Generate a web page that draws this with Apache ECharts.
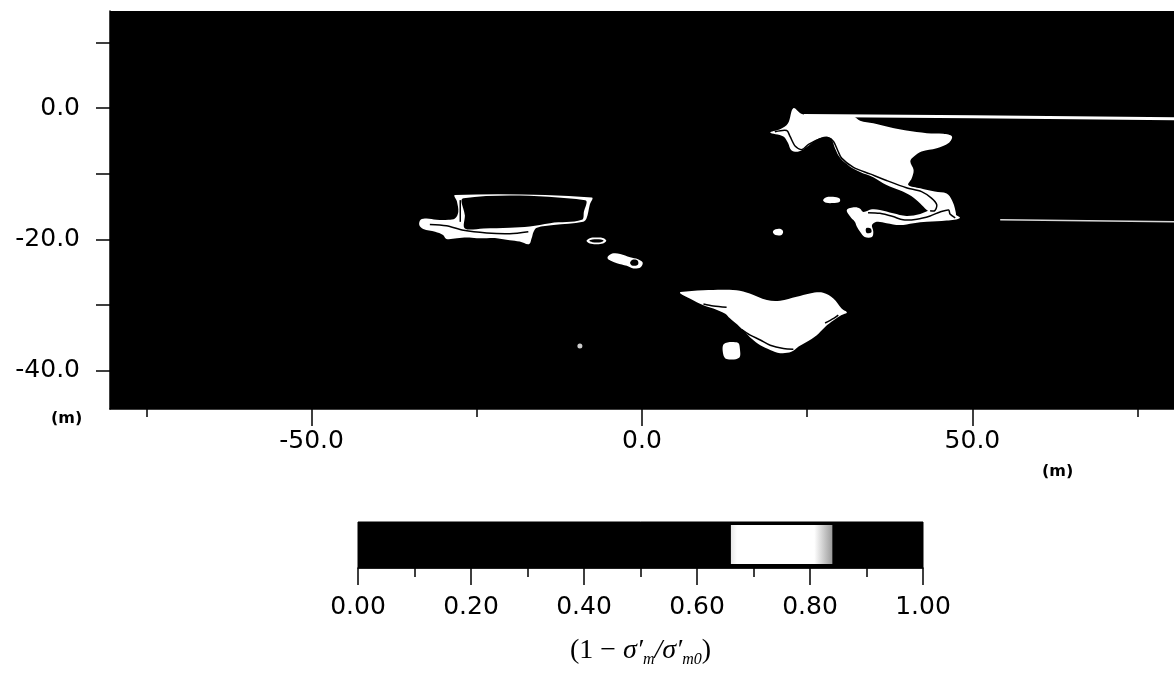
<!DOCTYPE html>
<html>
<head>
<meta charset="utf-8">
<title>1 - sigma'm / sigma'm0</title>
<script src="https://cdn.jsdelivr.net/npm/echarts@6/dist/echarts.min.js"></script>
<style>
html, body { margin: 0; padding: 0; background: #fff; }
#main { width: 1174px; height: 676px; }
</style>
</head>
<body>
<div id="main"></div>
<script>
// axis ticks (m)
var xTicksMajor = [-50, 0, 50];
var xTicksMinor = [-75, -25, 25, 75];
var yTicks = [-40, -30, -20, -10, 0, 10];
var yLabels = [-40, -20, 0];

// colour bar: breaks of (1 - s'm/s'm0) and shade of each band (0 black, 1 white)
var cbBreaks = [0, 0.66, 0.84, 1.0];
var cbShade = [0, 1, 0];

// zones with 0.66 < (1 - s'm/s'm0) < 0.84, outlines, [x, z] in m
var panOuter = [[-28.3,-13.2],[-7.6,-13.6],[-7.9,-14.7],[-8.4,-16.8],[-8.9,-17.3],[-13.4,-17.8],[-15.9,-18.2],[-16.4,-18.8],[-16.7,-19.8],[-17.1,-20.7],[-18.5,-20.3],[-20.0,-20.1],[-22.0,-19.8],[-23.5,-19.8],[-25.0,-19.8],[-26.5,-19.7],[-28.0,-19.8],[-29.6,-19.9],[-30.1,-19.3],[-31.3,-18.8],[-33.1,-18.4],[-33.7,-17.8],[-33.5,-17.0],[-32.6,-16.8],[-31.1,-17.0],[-29.3,-17.0],[-28.3,-16.8],[-27.8,-15.8],[-28.0,-14.2]];
var ring = [[-8.4,-20.2],[-7.9,-19.8],[-6.9,-19.7],[-5.8,-19.8],[-5.4,-20.2],[-5.9,-20.6],[-6.9,-20.7],[-7.9,-20.6]];
var blob3 = [[-5.1,-22.5],[-4.3,-22.1],[-3.3,-22.2],[-1.8,-22.7],[-0.6,-23.0],[0.1,-23.5],[-0.2,-24.2],[-1.3,-24.4],[-2.3,-24.0],[-3.8,-23.6],[-4.8,-23.2],[-5.2,-22.9]];
var lowerBlob = [[5.8,-28.0],[9.3,-27.7],[14.3,-27.7],[16.3,-28.2],[18.9,-29.2],[20.9,-29.3],[23.4,-28.7],[25.4,-28.2],[27.4,-28.1],[29.0,-29.0],[30.2,-30.5],[31.0,-31.1],[30.2,-31.5],[29.0,-32.3],[27.7,-33.3],[26.4,-34.6],[24.9,-35.6],[23.7,-36.3],[22.6,-37.1],[20.9,-37.3],[19.4,-36.8],[17.9,-36.1],[16.6,-35.1],[15.6,-34.1],[14.8,-33.3],[13.3,-32.0],[12.6,-31.3],[10.8,-30.5],[9.3,-30.0],[7.3,-29.0],[5.8,-28.2]];
var squareBlob = [[12.4,-35.9],[14.5,-35.7],[14.8,-36.5],[14.7,-38.0],[12.8,-38.2],[12.3,-37.5]];
var upperA = [[22.9,0.0],[24.2,-0.9],[26.4,-1.2],[32.0,-1.3],[33.0,-1.9],[35.0,-2.3],[37.5,-2.9],[40.0,-3.4],[43.1,-3.8],[45.6,-3.9],[46.9,-4.3],[46.4,-5.3],[44.6,-6.1],[42.3,-6.6],[41.1,-7.4],[40.6,-8.1],[41.1,-9.4],[40.8,-10.7],[40.3,-11.7],[42.1,-12.2],[44.3,-12.7],[46.1,-13.0],[46.9,-14.0],[47.4,-15.5],[47.4,-16.5],[45.6,-16.8],[44.1,-16.1],[43.1,-15.5],[42.1,-14.5],[40.8,-13.4],[39.0,-12.5],[37.0,-11.7],[35.0,-10.5],[33.0,-9.7],[31.5,-8.9],[30.0,-7.6],[29.2,-6.1],[28.7,-4.8],[27.9,-4.3],[26.4,-4.8],[24.9,-5.9],[23.7,-6.6],[22.6,-6.4],[22.1,-5.3],[21.4,-4.3],[19.4,-3.7],[20.9,-3.2],[22.1,-2.3]];
var upperB = [[31.0,-15.5],[32.2,-15.1],[33.0,-15.3],[33.5,-15.8],[34.8,-15.4],[36.0,-15.5],[38.0,-16.0],[40.0,-16.4],[42.1,-16.1],[43.6,-15.5],[45.1,-15.0],[46.1,-14.7],[47.1,-16.0],[48.1,-16.7],[46.1,-17.1],[43.1,-17.3],[41.1,-17.5],[39.0,-17.8],[37.0,-17.5],[35.5,-17.3],[34.8,-17.8],[35.0,-18.8],[34.8,-19.6],[33.7,-19.6],[33.0,-18.8],[32.5,-18.0],[32.2,-17.3],[31.5,-16.5]];
var ellC = [[27.4,-14.0],[27.9,-13.55],[28.9,-13.5],[29.9,-13.75],[29.9,-14.25],[28.9,-14.45],[27.9,-14.4]];
var ellD = [[19.8,-18.85],[20.2,-18.45],[21.0,-18.4],[21.35,-18.8],[21.1,-19.3],[20.2,-19.3]];
var spot = [[-9.4,-36.2]];

// holes inside the white zones (back to black)
var panHole = [[-27.0,-13.7],[-8.6,-14.0],[-8.8,-15.8],[-9.1,-17.0],[-13.9,-17.5],[-17.0,-18.0],[-20.0,-18.2],[-24.0,-18.3],[-26.8,-18.3],[-26.8,-16.3]];
var ringHole = [[-8.0,-20.2],[-7.5,-20.0],[-6.9,-19.95],[-6.2,-20.0],[-5.8,-20.2],[-6.2,-20.4],[-6.9,-20.45],[-7.5,-20.4]];
var blob3Hole = [[-1.8,-23.5],[-1.5,-23.1],[-1.0,-23.05],[-0.6,-23.3],[-0.6,-23.8],[-1.1,-24.0],[-1.6,-23.9]];
var upperBHole = [[33.9,-18.3],[34.6,-18.3],[34.7,-18.9],[34.0,-19.0]];

// thin black contour lines inside the white zones
var panLineBottom = [[-32.1,-17.7],[-29.6,-17.9],[-27.0,-18.6],[-23.5,-19.0],[-20.0,-19.1],[-17.2,-18.8]];
var panLineLeft = [[-27.5,-14.0],[-27.5,-17.3]];
var lowerLineA = [[9.3,-29.8],[10.8,-30.1],[12.8,-30.3]];
var lowerLineB = [[15.1,-33.7],[16.3,-34.5],[17.9,-35.3],[19.4,-36.1],[21.4,-36.6],[22.9,-36.7]];
var lowerLineC = [[27.7,-32.7],[29.0,-32.0],[29.7,-31.5]];
var upperLine = [[20.1,-3.6],[21.9,-3.4],[22.4,-4.3],[23.2,-5.8],[24.2,-6.3],[25.2,-5.5],[26.9,-4.7],[28.2,-4.5],[29.0,-5.1],[29.6,-6.4],[30.2,-7.6],[32.0,-9.0],[34.5,-10.0],[37.0,-11.0],[40.0,-12.1],[42.3,-12.7],[43.8,-13.7],[44.6,-14.7],[44.3,-15.6],[43.6,-15.6]];
var tailLine = [[34.2,-15.9],[36.0,-16.0],[38.0,-16.5],[39.5,-17.0],[41.6,-16.9],[43.6,-16.4],[45.1,-15.8],[46.4,-15.5],[46.6,-16.1],[47.4,-16.7]];

// white streaks running to the right edge
var topStreak = [[24.5,-1.1],[50,-1.3],[80.5,-1.6]];
var lowerStreak = [[54.2,-17.0],[80.5,-17.3]];

var whiteZones = [panOuter, ring, blob3, lowerBlob, squareBlob, upperA, upperB, ellC, ellD];
var holes = [panHole, ringHole, blob3Hole, upperBHole];
var contourLines = [panLineBottom, panLineLeft, lowerLineA, lowerLineB, lowerLineC, upperLine, tailLine];

var font = 'DejaVu Sans';
var tickStyle = { color: '#000', width: 1.5 };

function polyItem(list, fill) {
    return function (params, api) {
        var pts = list[params.dataIndex].map(function (p) { return api.coord(p); });
        return { type: 'polygon', shape: { points: pts, smooth: 0.35 }, style: { fill: fill } };
    };
}

function lineItem(list) {
    return function (params, api) {
        var pts = list[params.dataIndex].map(function (p) { return api.coord(p); });
        return { type: 'polyline', shape: { points: pts, smooth: 0.3 }, style: { stroke: '#000', lineWidth: 1.5, fill: null } };
    };
}

var cbSegments = [];
for (var i = 0; i < cbShade.length; i++) {
    cbSegments.push([cbBreaks[i], cbBreaks[i + 1], cbShade[i]]);
}

var dom = document.getElementById('main');
var myChart = echarts.init(dom, null, { renderer: 'canvas' });

var option = {
    animation: false,
    backgroundColor: '#fff',
    grid: [
        { left: 110, top: 11, width: 1064, height: 398, show: true, backgroundColor: '#000', borderWidth: 0, outerBoundsMode: 'none' },
        { left: 358, top: 522, width: 565, height: 46, show: true, backgroundColor: '#000', borderColor: '#000', borderWidth: 1, outerBoundsMode: 'none' }
    ],
    xAxis: [
        {   // minor ticks
            gridIndex: 0, type: 'value', position: 'bottom', min: -80.5, max: 80.5,
            axisLine: { show: true, onZero: false, lineStyle: tickStyle },
            axisTick: { show: true, customValues: xTicksMinor, length: 8, lineStyle: tickStyle },
            axisLabel: { show: false },
            splitLine: { show: false }
        },
        {   // major ticks + labels
            gridIndex: 0, type: 'value', position: 'bottom', min: -80.5, max: 80.5,
            axisLine: { show: false, onZero: false },
            axisTick: { show: true, customValues: xTicksMajor, length: 17, lineStyle: tickStyle },
            axisLabel: {
                customValues: xTicksMajor, margin: 20, color: '#000', fontSize: 25, fontFamily: font,
                formatter: function (v) { return v.toFixed(1); }
            },
            splitLine: { show: false }
        },
        {   // colour bar
            gridIndex: 1, type: 'value', position: 'bottom', min: 0, max: 1, interval: 0.2,
            axisLine: { show: true, onZero: false, lineStyle: tickStyle },
            axisTick: { show: true, length: 17, lineStyle: tickStyle },
            minorTick: { show: true, splitNumber: 2, length: 9, lineStyle: tickStyle },
            axisLabel: {
                margin: 27, color: '#000', fontSize: 25, fontFamily: font,
                formatter: function (v) { return v.toFixed(2); }
            },
            splitLine: { show: false },
            name: '(1 \u2212 {s|\u03c3\u2032}{sub|m}{s|/\u03c3\u2032}{sub|m0})',
            nameLocation: 'middle',
            nameGap: 66,
            nameTextStyle: {
                color: '#000', fontFamily: 'Liberation Serif', fontSize: 28, lineHeight: 34,
                rich: {
                    s: { fontFamily: 'Liberation Serif', fontStyle: 'italic', fontSize: 28, color: '#000' },
                    sub: { fontFamily: 'Liberation Serif', fontStyle: 'italic', fontSize: 16, color: '#000', verticalAlign: 'bottom', padding: [14, 0, 0, 0] }
                }
            }
        }
    ],
    yAxis: [
        {
            gridIndex: 0, type: 'value', position: 'left', min: -45.8, max: 14.8,
            axisLine: { show: true, onZero: false, lineStyle: tickStyle },
            axisTick: { show: true, customValues: yTicks, length: 14, lineStyle: tickStyle },
            axisLabel: {
                customValues: yLabels, margin: 30, color: '#000', fontSize: 25, fontFamily: font,
                formatter: function (v) { return v.toFixed(1); }
            },
            splitLine: { show: false }
        },
        { gridIndex: 1, type: 'value', min: 0, max: 1, show: false, axisLine: { onZero: false } }
    ],
    graphic: [
        { type: 'text', left: 51, top: 411, style: { text: '(m)', font: 'bold 16px "DejaVu Sans"', fill: '#000' } },
        { type: 'text', left: 1042, top: 464, style: { text: '(m)', font: 'bold 16px "DejaVu Sans"', fill: '#000' } }
    ],
    series: [
        {
            name: 'white zones', type: 'custom', xAxisIndex: 0, yAxisIndex: 0, clip: true, silent: true,
            renderItem: polyItem(whiteZones, '#fff'),
            data: whiteZones.map(function (p) { return p[0]; })
        },
        {
            name: 'holes', type: 'custom', xAxisIndex: 0, yAxisIndex: 0, clip: true, silent: true,
            renderItem: polyItem(holes, '#000'),
            data: holes.map(function (p) { return p[0]; })
        },
        {
            name: 'contours', type: 'custom', xAxisIndex: 0, yAxisIndex: 0, clip: true, silent: true,
            renderItem: lineItem(contourLines),
            data: contourLines.map(function (p) { return p[0]; })
        },
        {
            type: 'line', xAxisIndex: 0, yAxisIndex: 0, data: topStreak, symbol: 'none', silent: true,
            lineStyle: { color: '#fff', width: 3 }
        },
        {
            type: 'line', xAxisIndex: 0, yAxisIndex: 0, data: lowerStreak, symbol: 'none', silent: true,
            lineStyle: { color: '#d8d8d8', width: 1.5 }
        },
        {
            type: 'scatter', xAxisIndex: 0, yAxisIndex: 0, data: spot, symbolSize: 5, silent: true,
            itemStyle: { color: '#fff' }
        },
        {
            name: 'colour bar', type: 'custom', xAxisIndex: 2, yAxisIndex: 1, silent: true,
            renderItem: function (params, api) {
                var seg = cbSegments[params.dataIndex];
                var a = api.coord([seg[0], 1]);
                var b = api.coord([seg[1], 0]);
                if (seg[2] === 0) {
                    return { type: 'rect', shape: { x: a[0], y: a[1], width: b[0] - a[0], height: b[1] - a[1] }, style: { fill: '#000' } };
                }
                return {
                    type: 'rect',
                    shape: { x: a[0], y: a[1] + 3, width: b[0] - a[0], height: b[1] - a[1] - 7 },
                    style: {
                        fill: {
                            type: 'linear', x: 0, y: 0, x2: 1, y2: 0,
                            colorStops: [
                                { offset: 0, color: '#e8e8e8' },
                                { offset: 0.06, color: '#fff' },
                                { offset: 0.82, color: '#fff' },
                                { offset: 1, color: '#9a9a9a' }
                            ]
                        }
                    }
                };
            },
            data: cbSegments.map(function (s) { return [(s[0] + s[1]) / 2, 0.5]; })
        }
    ]
};

myChart.setOption(option);
</script>
</body>
</html>
